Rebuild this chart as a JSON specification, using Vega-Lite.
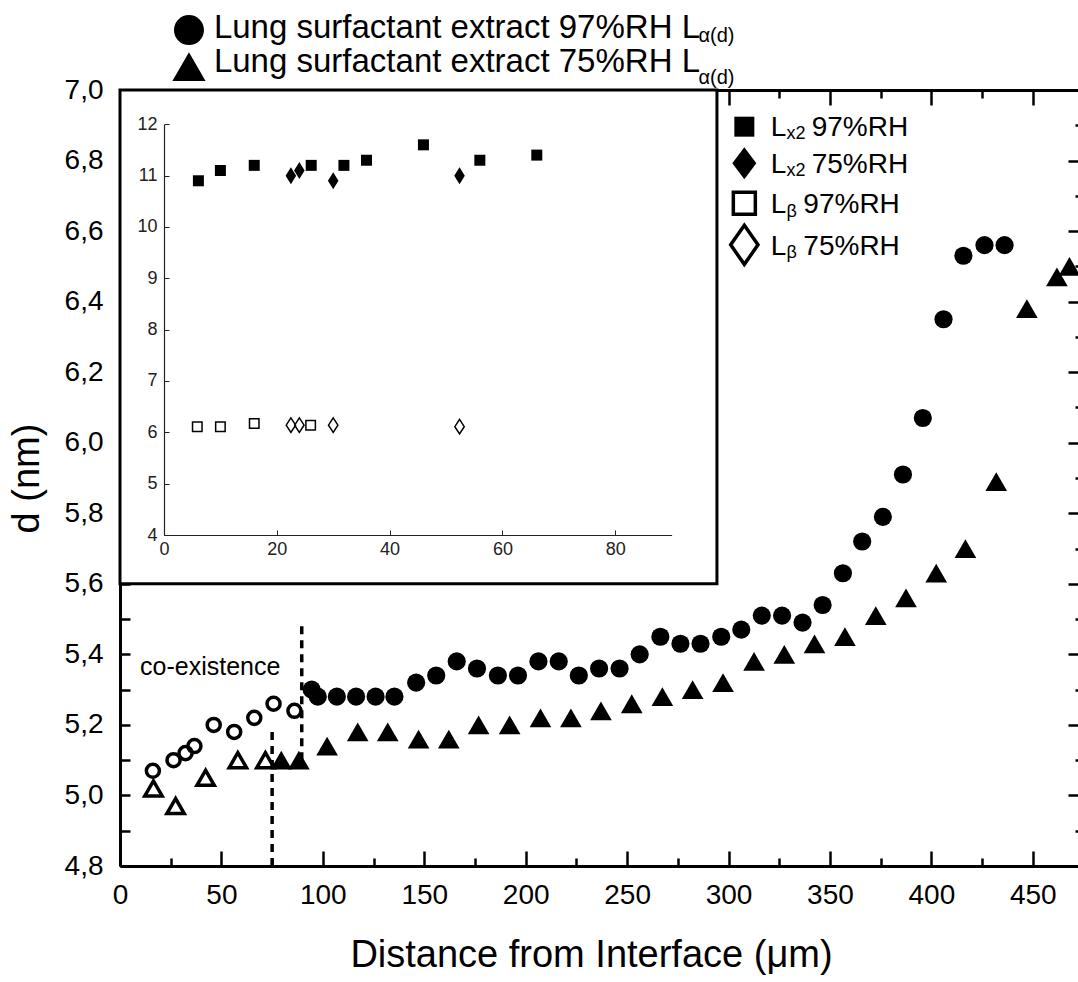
{
  "$schema": "https://vega.github.io/schema/vega-lite/v6.json",
  "width": 958,
  "height": 776,
  "autosize": {"type": "none"},
  "padding": {"left": 120, "top": 90, "right": 0, "bottom": 116},
  "background": "white",
  "config": {
    "view": {"stroke": null},
    "font": "Liberation Sans",
    "text": {"font": "Liberation Sans", "color": "black"}
  },
  "datasets": {
    "lsf": [
      {"distance": 16.2, "d": 5.07, "rh": "97%RH", "phase": "coexistence"},
      {"distance": 26.4, "d": 5.10, "rh": "97%RH", "phase": "coexistence"},
      {"distance": 32.3, "d": 5.12, "rh": "97%RH", "phase": "coexistence"},
      {"distance": 36.7, "d": 5.14, "rh": "97%RH", "phase": "coexistence"},
      {"distance": 46.2, "d": 5.20, "rh": "97%RH", "phase": "coexistence"},
      {"distance": 56.3, "d": 5.18, "rh": "97%RH", "phase": "coexistence"},
      {"distance": 66.2, "d": 5.22, "rh": "97%RH", "phase": "coexistence"},
      {"distance": 75.7, "d": 5.26, "rh": "97%RH", "phase": "coexistence"},
      {"distance": 86.0, "d": 5.24, "rh": "97%RH", "phase": "coexistence"},
      {"distance": 94.5, "d": 5.30, "rh": "97%RH", "phase": "La(d)"},
      {"distance": 97.5, "d": 5.28, "rh": "97%RH", "phase": "La(d)"},
      {"distance": 106.9, "d": 5.28, "rh": "97%RH", "phase": "La(d)"},
      {"distance": 116.4, "d": 5.28, "rh": "97%RH", "phase": "La(d)"},
      {"distance": 126.0, "d": 5.28, "rh": "97%RH", "phase": "La(d)"},
      {"distance": 135.3, "d": 5.28, "rh": "97%RH", "phase": "La(d)"},
      {"distance": 146.0, "d": 5.32, "rh": "97%RH", "phase": "La(d)"},
      {"distance": 155.9, "d": 5.34, "rh": "97%RH", "phase": "La(d)"},
      {"distance": 166.0, "d": 5.38, "rh": "97%RH", "phase": "La(d)"},
      {"distance": 176.0, "d": 5.36, "rh": "97%RH", "phase": "La(d)"},
      {"distance": 186.3, "d": 5.34, "rh": "97%RH", "phase": "La(d)"},
      {"distance": 196.2, "d": 5.34, "rh": "97%RH", "phase": "La(d)"},
      {"distance": 206.3, "d": 5.38, "rh": "97%RH", "phase": "La(d)"},
      {"distance": 216.3, "d": 5.38, "rh": "97%RH", "phase": "La(d)"},
      {"distance": 226.2, "d": 5.34, "rh": "97%RH", "phase": "La(d)"},
      {"distance": 236.2, "d": 5.36, "rh": "97%RH", "phase": "La(d)"},
      {"distance": 246.3, "d": 5.36, "rh": "97%RH", "phase": "La(d)"},
      {"distance": 256.2, "d": 5.40, "rh": "97%RH", "phase": "La(d)"},
      {"distance": 266.4, "d": 5.45, "rh": "97%RH", "phase": "La(d)"},
      {"distance": 276.3, "d": 5.43, "rh": "97%RH", "phase": "La(d)"},
      {"distance": 286.2, "d": 5.43, "rh": "97%RH", "phase": "La(d)"},
      {"distance": 296.4, "d": 5.45, "rh": "97%RH", "phase": "La(d)"},
      {"distance": 306.3, "d": 5.47, "rh": "97%RH", "phase": "La(d)"},
      {"distance": 316.4, "d": 5.51, "rh": "97%RH", "phase": "La(d)"},
      {"distance": 326.4, "d": 5.51, "rh": "97%RH", "phase": "La(d)"},
      {"distance": 336.5, "d": 5.49, "rh": "97%RH", "phase": "La(d)"},
      {"distance": 346.4, "d": 5.54, "rh": "97%RH", "phase": "La(d)"},
      {"distance": 356.4, "d": 5.63, "rh": "97%RH", "phase": "La(d)"},
      {"distance": 365.9, "d": 5.72, "rh": "97%RH", "phase": "La(d)"},
      {"distance": 376.1, "d": 5.79, "rh": "97%RH", "phase": "La(d)"},
      {"distance": 386.0, "d": 5.91, "rh": "97%RH", "phase": "La(d)"},
      {"distance": 395.8, "d": 6.07, "rh": "97%RH", "phase": "La(d)"},
      {"distance": 406.0, "d": 6.35, "rh": "97%RH", "phase": "La(d)"},
      {"distance": 415.8, "d": 6.53, "rh": "97%RH", "phase": "La(d)"},
      {"distance": 426.2, "d": 6.56, "rh": "97%RH", "phase": "La(d)"},
      {"distance": 436.1, "d": 6.56, "rh": "97%RH", "phase": "La(d)"},
      {"distance": 16.5, "d": 5.02, "rh": "75%RH", "phase": "coexistence"},
      {"distance": 27.4, "d": 4.97, "rh": "75%RH", "phase": "coexistence"},
      {"distance": 42.2, "d": 5.05, "rh": "75%RH", "phase": "coexistence"},
      {"distance": 58.1, "d": 5.10, "rh": "75%RH", "phase": "coexistence"},
      {"distance": 71.7, "d": 5.10, "rh": "75%RH", "phase": "coexistence"},
      {"distance": 79.5, "d": 5.10, "rh": "75%RH", "phase": "La(d)"},
      {"distance": 88.2, "d": 5.10, "rh": "75%RH", "phase": "La(d)"},
      {"distance": 102.1, "d": 5.14, "rh": "75%RH", "phase": "La(d)"},
      {"distance": 117.2, "d": 5.18, "rh": "75%RH", "phase": "La(d)"},
      {"distance": 132.0, "d": 5.18, "rh": "75%RH", "phase": "La(d)"},
      {"distance": 147.2, "d": 5.16, "rh": "75%RH", "phase": "La(d)"},
      {"distance": 162.1, "d": 5.16, "rh": "75%RH", "phase": "La(d)"},
      {"distance": 176.8, "d": 5.20, "rh": "75%RH", "phase": "La(d)"},
      {"distance": 192.1, "d": 5.20, "rh": "75%RH", "phase": "La(d)"},
      {"distance": 207.3, "d": 5.22, "rh": "75%RH", "phase": "La(d)"},
      {"distance": 222.3, "d": 5.22, "rh": "75%RH", "phase": "La(d)"},
      {"distance": 237.1, "d": 5.24, "rh": "75%RH", "phase": "La(d)"},
      {"distance": 252.3, "d": 5.26, "rh": "75%RH", "phase": "La(d)"},
      {"distance": 267.4, "d": 5.28, "rh": "75%RH", "phase": "La(d)"},
      {"distance": 282.3, "d": 5.30, "rh": "75%RH", "phase": "La(d)"},
      {"distance": 297.3, "d": 5.32, "rh": "75%RH", "phase": "La(d)"},
      {"distance": 312.6, "d": 5.38, "rh": "75%RH", "phase": "La(d)"},
      {"distance": 327.5, "d": 5.40, "rh": "75%RH", "phase": "La(d)"},
      {"distance": 342.4, "d": 5.43, "rh": "75%RH", "phase": "La(d)"},
      {"distance": 357.4, "d": 5.45, "rh": "75%RH", "phase": "La(d)"},
      {"distance": 372.6, "d": 5.51, "rh": "75%RH", "phase": "La(d)"},
      {"distance": 387.5, "d": 5.56, "rh": "75%RH", "phase": "La(d)"},
      {"distance": 402.4, "d": 5.63, "rh": "75%RH", "phase": "La(d)"},
      {"distance": 416.8, "d": 5.70, "rh": "75%RH", "phase": "La(d)"},
      {"distance": 432.0, "d": 5.89, "rh": "75%RH", "phase": "La(d)"},
      {"distance": 447.1, "d": 6.38, "rh": "75%RH", "phase": "La(d)"},
      {"distance": 461.9, "d": 6.47, "rh": "75%RH", "phase": "La(d)"},
      {"distance": 468.1, "d": 6.50, "rh": "75%RH", "phase": "La(d)"}
    ],
    "inset": [
      {"distance": 6.1, "d": 10.9, "phase": "Lx2", "rh": "97%RH"},
      {"distance": 10.0, "d": 11.1, "phase": "Lx2", "rh": "97%RH"},
      {"distance": 16.0, "d": 11.2, "phase": "Lx2", "rh": "97%RH"},
      {"distance": 26.1, "d": 11.2, "phase": "Lx2", "rh": "97%RH"},
      {"distance": 31.9, "d": 11.2, "phase": "Lx2", "rh": "97%RH"},
      {"distance": 35.9, "d": 11.3, "phase": "Lx2", "rh": "97%RH"},
      {"distance": 46.0, "d": 11.6, "phase": "Lx2", "rh": "97%RH"},
      {"distance": 56.0, "d": 11.3, "phase": "Lx2", "rh": "97%RH"},
      {"distance": 66.1, "d": 11.4, "phase": "Lx2", "rh": "97%RH"},
      {"distance": 22.5, "d": 11.0, "phase": "Lx2", "rh": "75%RH"},
      {"distance": 24.0, "d": 11.1, "phase": "Lx2", "rh": "75%RH"},
      {"distance": 30.0, "d": 10.9, "phase": "Lx2", "rh": "75%RH"},
      {"distance": 52.4, "d": 11.0, "phase": "Lx2", "rh": "75%RH"},
      {"distance": 5.9, "d": 6.11, "phase": "Lb", "rh": "97%RH"},
      {"distance": 10.0, "d": 6.11, "phase": "Lb", "rh": "97%RH"},
      {"distance": 16.0, "d": 6.17, "phase": "Lb", "rh": "97%RH"},
      {"distance": 26.0, "d": 6.14, "phase": "Lb", "rh": "97%RH"},
      {"distance": 22.5, "d": 6.14, "phase": "Lb", "rh": "75%RH"},
      {"distance": 24.0, "d": 6.14, "phase": "Lb", "rh": "75%RH"},
      {"distance": 30.0, "d": 6.14, "phase": "Lb", "rh": "75%RH"},
      {"distance": 52.4, "d": 6.11, "phase": "Lb", "rh": "75%RH"}
    ],
    "one": [{}]
  },
  "resolve": {"scale": {"x": "independent", "y": "independent"}},
  "layer": [
    {
      "resolve": {"axis": {"x": "independent", "y": "independent"}},
      "layer": [
        {
          "data": {"name": "lsf"},
          "mark": {"type": "point", "shape": "circle", "filled": false, "color": "black", "strokeWidth": 3.5, "size": 170, "opacity": 1},
          "transform": [{"filter": "datum.rh == '97%RH' && datum.phase == 'coexistence'"}],
          "encoding": {
            "x": {
              "field": "distance", "type": "quantitative",
              "scale": {"domain": [0, 472.3], "nice": false, "zero": false},
              "axis": {
                "orient": "bottom", "zindex": 0, "grid": false,
                "values": [0, 50, 100, 150, 200, 250, 300, 350, 400, 450],
                "format": "d",
                "tickSize": -15, "tickWidth": 2.5, "tickColor": "black",
                "domainWidth": 3, "domainColor": "black",
                "labelFont": "Liberation Sans", "labelFontSize": 28, "labelColor": "black",
                "labelPadding": 30, "labelFlush": false, "labelOverlap": false, "labelBound": false,
                "title": "Distance from Interface (μm)",
                "titleFont": "Liberation Sans", "titleFontSize": 38, "titleFontWeight": "normal", "titleColor": "black",
                "titleX": 471, "titleY": 100, "titleAlign": "center", "titleBaseline": "alphabetic"
              }
            },
            "y": {
              "field": "d", "type": "quantitative",
              "scale": {"domain": [4.8, 7.0], "nice": false, "zero": false},
              "axis": {
                "orient": "left", "zindex": 0, "grid": false,
                "values": [4.8, 4.9, 5.0, 5.1, 5.2, 5.3, 5.4, 5.5, 5.6, 5.7, 5.8, 5.9, 6.0, 6.1, 6.2, 6.3, 6.4, 6.5, 6.6, 6.7, 6.8, 6.9, 7.0],
                "labelExpr": "round(datum.value * 10) % 2 == 0 ? replace(format(datum.value, '.1f'), '.', ',') : ''",
                "tickSize": -10, "tickWidth": 2.5, "tickColor": "black",
                "domainWidth": 3, "domainColor": "black",
                "labelFont": "Liberation Sans", "labelFontSize": 28, "labelColor": "black",
                "labelPadding": 27, "labelFlush": false, "labelOverlap": false, "labelBound": false,
                "title": "d (nm)",
                "titleFont": "Liberation Sans", "titleFontSize": 38, "titleFontWeight": "normal", "titleColor": "black",
                "titleX": -82, "titleY": 388, "titleAngle": 270, "titleAlign": "center", "titleBaseline": "alphabetic"
              }
            }
          }
        },
        {
          "data": {"name": "lsf"},
          "mark": {"type": "point", "shape": "circle", "filled": true, "color": "black", "size": 330, "opacity": 1},
          "transform": [{"filter": "datum.rh == '97%RH' && datum.phase == 'La(d)'"}],
          "encoding": {
            "x": {
              "field": "distance", "type": "quantitative",
              "axis": {
                "orient": "top", "zindex": 0, "grid": false, "labels": false, "title": null,
                "values": [0, 50, 100, 150, 200, 250, 300, 350, 400, 450],
                "tickSize": -15, "tickWidth": 2.5, "tickColor": "black",
                "domainWidth": 3, "domainColor": "black"
              }
            },
            "y": {
              "field": "d", "type": "quantitative",
              "axis": {
                "orient": "right", "zindex": 0, "grid": false, "labels": false, "title": null, "domain": false,
                "values": [4.8, 5.0, 5.2, 5.4, 5.6, 5.8, 6.0, 6.2, 6.4, 6.6, 6.8, 7.0],
                "tickSize": -10, "tickWidth": 2.5, "tickColor": "black"
              }
            }
          }
        },
        {
          "data": {"name": "lsf"},
          "mark": {"type": "point", "shape": "triangle-up", "filled": false, "color": "black", "strokeWidth": 3.5, "size": 300, "opacity": 1},
          "transform": [{"filter": "datum.rh == '75%RH' && datum.phase == 'coexistence'"}],
          "encoding": {
            "x": {
              "field": "distance", "type": "quantitative",
              "axis": {
                "orient": "bottom", "zindex": 0, "grid": false, "labels": false, "title": null, "domain": false,
                "values": [25, 75, 125, 175, 225, 275, 325, 375, 425],
                "tickSize": -8, "tickWidth": 2.5, "tickColor": "black"
              }
            },
            "y": {
              "field": "d", "type": "quantitative",
              "axis": {
                "orient": "right", "zindex": 0, "grid": false, "labels": false, "title": null, "domain": false,
                "values": [4.9, 5.1, 5.3, 5.5, 5.7, 5.9, 6.1, 6.3, 6.5, 6.7, 6.9],
                "tickSize": -3, "tickWidth": 2.5, "tickColor": "black"
              }
            }
          }
        },
        {
          "data": {"name": "lsf"},
          "mark": {"type": "point", "shape": "triangle-up", "filled": true, "color": "black", "size": 470, "opacity": 1},
          "transform": [{"filter": "datum.rh == '75%RH' && datum.phase == 'La(d)'"}],
          "encoding": {
            "x": {
              "field": "distance", "type": "quantitative",
              "axis": {
                "orient": "top", "zindex": 0, "grid": false, "labels": false, "title": null, "domain": false,
                "values": [25, 75, 125, 175, 225, 275, 325, 375, 425],
                "tickSize": -8, "tickWidth": 2.5, "tickColor": "black"
              }
            },
            "y": {"field": "d", "type": "quantitative", "axis": null}
          }
        },
        {
          "data": {"name": "one"},
          "mark": {"type": "rect", "fill": "white", "stroke": "black", "strokeWidth": 3},
          "encoding": {
            "x": {"datum": 0, "type": "quantitative", "axis": null},
            "x2": {"datum": 294.3},
            "y": {"datum": 5.6, "type": "quantitative", "axis": null},
            "y2": {"datum": 7.0}
          }
        },
        {
          "data": {"name": "one"},
          "mark": {"type": "rule", "color": "black", "strokeWidth": 3.5, "strokeDash": [8, 6]},
          "encoding": {
            "x": {"datum": 75, "type": "quantitative", "axis": null},
            "y": {"datum": 4.8, "type": "quantitative", "axis": null},
            "y2": {"datum": 5.18}
          }
        },
        {
          "data": {"name": "one"},
          "mark": {"type": "rule", "color": "black", "strokeWidth": 3.5, "strokeDash": [8, 6]},
          "encoding": {
            "x": {"datum": 89.6, "type": "quantitative", "axis": null},
            "y": {"datum": 5.10, "type": "quantitative", "axis": null},
            "y2": {"datum": 5.48}
          }
        },
        {
          "data": {"name": "one"},
          "mark": {"type": "text", "text": "co-existence", "fontSize": 25, "align": "left", "baseline": "alphabetic"},
          "encoding": {
            "x": {"datum": 9.9, "type": "quantitative", "axis": null},
            "y": {"datum": 5.342, "type": "quantitative", "axis": null}
          }
        },
        {
          "data": {"name": "one"},
          "mark": {"type": "point", "shape": "circle", "filled": true, "color": "black", "size": 900, "opacity": 1},
          "encoding": {
            "x": {"datum": 34.0, "type": "quantitative", "axis": null},
            "y": {"datum": 7.17, "type": "quantitative", "axis": null}
          }
        },
        {
          "data": {"name": "one"},
          "mark": {"type": "point", "shape": "triangle-up", "filled": true, "color": "black", "size": 1100, "opacity": 1},
          "encoding": {
            "x": {"datum": 34.0, "type": "quantitative", "axis": null},
            "y": {"datum": 7.066, "type": "quantitative", "axis": null}
          }
        },
        {
          "data": {"name": "one"},
          "mark": {"type": "text", "text": "Lung surfactant extract 97%RH L", "fontSize": 33, "align": "left", "baseline": "alphabetic"},
          "encoding": {
            "x": {"datum": 46.3, "type": "quantitative", "axis": null},
            "y": {"datum": 7.148, "type": "quantitative", "axis": null}
          }
        },
        {
          "data": {"name": "one"},
          "mark": {"type": "text", "text": "Lung surfactant extract 75%RH L", "fontSize": 33, "align": "left", "baseline": "alphabetic"},
          "encoding": {
            "x": {"datum": 46.3, "type": "quantitative", "axis": null},
            "y": {"datum": 7.05, "type": "quantitative", "axis": null}
          }
        },
        {
          "data": {"name": "one"},
          "mark": {"type": "text", "text": "α(d)", "fontSize": 20, "align": "left", "baseline": "alphabetic"},
          "encoding": {
            "x": {"datum": 285.2, "type": "quantitative", "axis": null},
            "y": {"datum": 7.137, "type": "quantitative", "axis": null}
          }
        },
        {
          "data": {"name": "one"},
          "mark": {"type": "text", "text": "α(d)", "fontSize": 20, "align": "left", "baseline": "alphabetic"},
          "encoding": {
            "x": {"datum": 285.2, "type": "quantitative", "axis": null},
            "y": {"datum": 7.017, "type": "quantitative", "axis": null}
          }
        },
        {
          "data": {"name": "one"},
          "mark": {"type": "point", "shape": "square", "filled": true, "color": "black", "size": 400, "opacity": 1},
          "encoding": {
            "x": {"datum": 307.8, "type": "quantitative", "axis": null},
            "y": {"datum": 6.896, "type": "quantitative", "axis": null}
          }
        },
        {
          "data": {"name": "one"},
          "mark": {"type": "point", "shape": "M0,-1L0.75,0L0,1L-0.75,0Z", "filled": true, "color": "black", "size": 1024, "opacity": 1},
          "encoding": {
            "x": {"datum": 307.8, "type": "quantitative", "axis": null},
            "y": {"datum": 6.792, "type": "quantitative", "axis": null}
          }
        },
        {
          "data": {"name": "one"},
          "mark": {"type": "point", "shape": "square", "filled": false, "color": "black", "strokeWidth": 3.5, "size": 484, "opacity": 1},
          "encoding": {
            "x": {"datum": 307.8, "type": "quantitative", "axis": null},
            "y": {"datum": 6.679, "type": "quantitative", "axis": null}
          }
        },
        {
          "data": {"name": "one"},
          "mark": {"type": "point", "shape": "M0,-1L0.7,0L0,1L-0.7,0Z", "filled": false, "color": "black", "strokeWidth": 3.5, "size": 1521, "opacity": 1},
          "encoding": {
            "x": {"datum": 307.8, "type": "quantitative", "axis": null},
            "y": {"datum": 6.561, "type": "quantitative", "axis": null}
          }
        },
        {
          "data": {"name": "one"},
          "mark": {"type": "text", "text": "L", "fontSize": 28, "align": "left", "baseline": "alphabetic"},
          "encoding": {"x": {"datum": 320.8, "type": "quantitative", "axis": null}, "y": {"datum": 6.870, "type": "quantitative", "axis": null}}
        },
        {
          "data": {"name": "one"},
          "mark": {"type": "text", "text": "L", "fontSize": 28, "align": "left", "baseline": "alphabetic"},
          "encoding": {"x": {"datum": 320.8, "type": "quantitative", "axis": null}, "y": {"datum": 6.764, "type": "quantitative", "axis": null}}
        },
        {
          "data": {"name": "one"},
          "mark": {"type": "text", "text": "L", "fontSize": 28, "align": "left", "baseline": "alphabetic"},
          "encoding": {"x": {"datum": 320.8, "type": "quantitative", "axis": null}, "y": {"datum": 6.650, "type": "quantitative", "axis": null}}
        },
        {
          "data": {"name": "one"},
          "mark": {"type": "text", "text": "L", "fontSize": 28, "align": "left", "baseline": "alphabetic"},
          "encoding": {"x": {"datum": 320.8, "type": "quantitative", "axis": null}, "y": {"datum": 6.532, "type": "quantitative", "axis": null}}
        },
        {
          "data": {"name": "one"},
          "mark": {"type": "text", "text": "x2", "fontSize": 18, "align": "left", "baseline": "alphabetic"},
          "encoding": {"x": {"datum": 328.6, "type": "quantitative", "axis": null}, "y": {"datum": 6.861, "type": "quantitative", "axis": null}}
        },
        {
          "data": {"name": "one"},
          "mark": {"type": "text", "text": "x2", "fontSize": 18, "align": "left", "baseline": "alphabetic"},
          "encoding": {"x": {"datum": 328.6, "type": "quantitative", "axis": null}, "y": {"datum": 6.755, "type": "quantitative", "axis": null}}
        },
        {
          "data": {"name": "one"},
          "mark": {"type": "text", "text": "β", "fontSize": 18, "align": "left", "baseline": "alphabetic"},
          "encoding": {"x": {"datum": 328.6, "type": "quantitative", "axis": null}, "y": {"datum": 6.641, "type": "quantitative", "axis": null}}
        },
        {
          "data": {"name": "one"},
          "mark": {"type": "text", "text": "β", "fontSize": 18, "align": "left", "baseline": "alphabetic"},
          "encoding": {"x": {"datum": 328.6, "type": "quantitative", "axis": null}, "y": {"datum": 6.523, "type": "quantitative", "axis": null}}
        },
        {
          "data": {"name": "one"},
          "mark": {"type": "text", "text": "97%RH", "fontSize": 28, "align": "left", "baseline": "alphabetic"},
          "encoding": {"x": {"datum": 341.0, "type": "quantitative", "axis": null}, "y": {"datum": 6.870, "type": "quantitative", "axis": null}}
        },
        {
          "data": {"name": "one"},
          "mark": {"type": "text", "text": "75%RH", "fontSize": 28, "align": "left", "baseline": "alphabetic"},
          "encoding": {"x": {"datum": 341.0, "type": "quantitative", "axis": null}, "y": {"datum": 6.764, "type": "quantitative", "axis": null}}
        },
        {
          "data": {"name": "one"},
          "mark": {"type": "text", "text": "97%RH", "fontSize": 28, "align": "left", "baseline": "alphabetic"},
          "encoding": {"x": {"datum": 336.9, "type": "quantitative", "axis": null}, "y": {"datum": 6.650, "type": "quantitative", "axis": null}}
        },
        {
          "data": {"name": "one"},
          "mark": {"type": "text", "text": "75%RH", "fontSize": 28, "align": "left", "baseline": "alphabetic"},
          "encoding": {"x": {"datum": 336.9, "type": "quantitative", "axis": null}, "y": {"datum": 6.532, "type": "quantitative", "axis": null}}
        }
      ]
    },
    {
      "data": {"name": "inset"},
      "layer": [
        {
          "mark": {"type": "point", "shape": "square", "filled": true, "color": "black", "size": 121, "opacity": 1},
          "transform": [{"filter": "datum.phase == 'Lx2' && datum.rh == '97%RH'"}],
          "encoding": {
            "x": {
              "field": "distance", "type": "quantitative",
              "scale": {"domain": [0, 90], "range": [44, 551.6], "nice": false, "zero": false},
              "axis": {
                "orient": "bottom", "offset": -331, "zindex": 1, "grid": false, "title": null,
                "values": [0, 20, 40, 60, 80], "format": "d",
                "tickSize": -5, "tickWidth": 1, "tickColor": "#222",
                "domainWidth": 1.2, "domainColor": "#222",
                "labelFont": "Liberation Sans", "labelFontSize": 18, "labelColor": "#222",
                "labelPadding": 10, "labelFlush": false, "labelOverlap": false, "labelBound": false
              }
            },
            "y": {
              "field": "d", "type": "quantitative",
              "scale": {"domain": [4, 12], "range": [445, 34.3], "nice": false, "zero": false},
              "axis": {
                "orient": "left", "offset": -44, "zindex": 1, "grid": false, "title": null,
                "values": [4, 5, 6, 7, 8, 9, 10, 11, 12], "format": "d",
                "tickSize": -5, "tickWidth": 1, "tickColor": "#222",
                "domainWidth": 1.2, "domainColor": "#222",
                "labelFont": "Liberation Sans", "labelFontSize": 18, "labelColor": "#222",
                "labelPadding": 12, "labelFlush": false, "labelOverlap": false, "labelBound": false
              }
            }
          }
        },
        {
          "mark": {"type": "point", "shape": "M0,-1L0.62,0L0,1L-0.62,0Z", "filled": true, "color": "black", "size": 289, "opacity": 1},
          "transform": [{"filter": "datum.phase == 'Lx2' && datum.rh == '75%RH'"}],
          "encoding": {
            "x": {"field": "distance", "type": "quantitative"},
            "y": {"field": "d", "type": "quantitative"}
          }
        },
        {
          "mark": {"type": "point", "shape": "square", "filled": false, "color": "black", "strokeWidth": 1.5, "size": 90, "opacity": 1},
          "transform": [{"filter": "datum.phase == 'Lb' && datum.rh == '97%RH'"}],
          "encoding": {
            "x": {"field": "distance", "type": "quantitative"},
            "y": {"field": "d", "type": "quantitative"}
          }
        },
        {
          "mark": {"type": "point", "shape": "M0,-1L0.65,0L0,1L-0.65,0Z", "filled": false, "color": "black", "strokeWidth": 1.5, "size": 210, "opacity": 1},
          "transform": [{"filter": "datum.phase == 'Lb' && datum.rh == '75%RH'"}],
          "encoding": {
            "x": {"field": "distance", "type": "quantitative"},
            "y": {"field": "d", "type": "quantitative"}
          }
        }
      ]
    }
  ]
}
